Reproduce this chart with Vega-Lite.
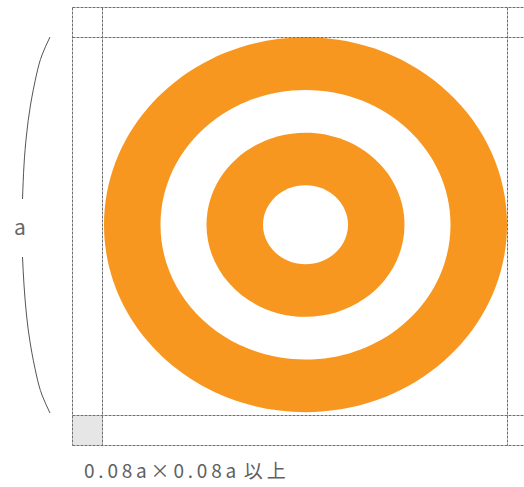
{
  "$schema": "https://vega.github.io/schema/vega-lite/v6.json",
  "width": 524,
  "height": 487,
  "autosize": "none",
  "padding": 0,
  "background": "white",
  "config": {"view": {"stroke": null}},
  "datasets": {
    "rings": [
      {"ring": 1, "cx": 305.5, "cy": 224.75, "d": 403, "tone": "orange"},
      {"ring": 2, "cx": 305.5, "cy": 224.75, "d": 290, "tone": "white"},
      {"ring": 3, "cx": 305.5, "cy": 224.75, "d": 198, "tone": "orange"},
      {"ring": 4, "cx": 305.5, "cy": 224.75, "d": 85, "tone": "white"}
    ],
    "guides": [
      {"x": 72.5, "x2": 524, "y": 7.5, "y2": 7.5},
      {"x": 72.5, "x2": 524, "y": 37.5, "y2": 37.5},
      {"x": 72.5, "x2": 524, "y": 415.5, "y2": 415.5},
      {"x": 72.5, "x2": 524, "y": 445.5, "y2": 445.5},
      {"x": 72.5, "x2": 72.5, "y": 7.5, "y2": 445.5},
      {"x": 102.5, "x2": 102.5, "y": 7.5, "y2": 445.5},
      {"x": 507.5, "x2": 507.5, "y": 7.5, "y2": 445.5}
    ],
    "box": [{"x": 72.5, "x2": 102.5, "y": 415.5, "y2": 445.5}],
    "brace": [
      {"seg": "top", "i": 1, "x": 50, "y": 37},
      {"seg": "top", "i": 2, "x": 42, "y": 55},
      {"seg": "top", "i": 3, "x": 36.4, "y": 75},
      {"seg": "top", "i": 4, "x": 30.5, "y": 105},
      {"seg": "top", "i": 5, "x": 26.5, "y": 135},
      {"seg": "top", "i": 6, "x": 24, "y": 165},
      {"seg": "top", "i": 7, "x": 22.5, "y": 199},
      {"seg": "bottom", "i": 1, "x": 22.5, "y": 257},
      {"seg": "bottom", "i": 2, "x": 24, "y": 285},
      {"seg": "bottom", "i": 3, "x": 26.5, "y": 315},
      {"seg": "bottom", "i": 4, "x": 30.5, "y": 345},
      {"seg": "bottom", "i": 5, "x": 36.4, "y": 375},
      {"seg": "bottom", "i": 6, "x": 42, "y": 395},
      {"seg": "bottom", "i": 7, "x": 50, "y": 413}
    ],
    "labels": [
      {"x": 20, "y": 229, "text": "a", "kind": "side"},
      {"x": 84, "y": 478, "text": "0\u2009.\u20090\u20098\u2009a\u2009×\u20090\u2009.\u20090\u20098\u2009a\u2009\u2009以\u2009上", "kind": "note"}
    ]
  },
  "layer": [
    {
      "data": {"name": "box"},
      "mark": {"type": "rect", "color": "#e6e6e7"},
      "encoding": {
        "x": {"field": "x", "type": "quantitative", "scale": {"domain": [0, 524], "nice": false, "zero": false}, "axis": null},
        "x2": {"field": "x2"},
        "y": {"field": "y", "type": "quantitative", "scale": {"domain": [0, 487], "nice": false, "zero": false, "reverse": true}, "axis": null},
        "y2": {"field": "y2"}
      }
    },
    {
      "data": {"name": "rings"},
      "mark": {"type": "point", "filled": true, "opacity": 1, "shape": "M-1,0A1,0.93,0,1,1,1,0A1,0.93,0,1,1,-1,0Z"},
      "encoding": {
        "x": {"field": "cx", "type": "quantitative", "axis": null},
        "y": {"field": "cy", "type": "quantitative", "axis": null},
        "size": {"field": "d", "type": "quantitative", "scale": {"type": "pow", "exponent": 2, "domain": [0, 403], "range": [0, 162409]}, "legend": null},
        "color": {"field": "tone", "type": "nominal", "scale": {"domain": ["orange", "white"], "range": ["#f7971f", "#ffffff"]}, "legend": null},
        "order": {"field": "ring", "type": "quantitative", "sort": "ascending"}
      }
    },
    {
      "data": {"name": "guides"},
      "mark": {"type": "rule", "color": "#6e6e6e", "strokeWidth": 1, "strokeDash": [3, 1]},
      "encoding": {
        "x": {"field": "x", "type": "quantitative", "axis": null},
        "x2": {"field": "x2"},
        "y": {"field": "y", "type": "quantitative", "axis": null},
        "y2": {"field": "y2"}
      }
    },
    {
      "data": {"name": "brace"},
      "mark": {"type": "line", "color": "#555555", "strokeWidth": 1, "interpolate": "natural"},
      "encoding": {
        "x": {"field": "x", "type": "quantitative", "axis": null},
        "y": {"field": "y", "type": "quantitative", "axis": null},
        "detail": {"field": "seg", "type": "nominal"},
        "order": {"field": "i", "type": "quantitative"}
      }
    },
    {
      "data": {"name": "labels"},
      "transform": [{"filter": "datum.kind === 'side'"}],
      "mark": {"type": "text", "font": "Noto Sans CJK JP", "fontSize": 21, "color": "#666666", "align": "center", "baseline": "middle"},
      "encoding": {
        "x": {"field": "x", "type": "quantitative", "axis": null},
        "y": {"field": "y", "type": "quantitative", "axis": null},
        "text": {"field": "text"}
      }
    },
    {
      "data": {"name": "labels"},
      "transform": [{"filter": "datum.kind === 'note'"}],
      "mark": {"type": "text", "font": "Noto Sans CJK JP", "fontSize": 19, "color": "#606060", "align": "left", "baseline": "alphabetic"},
      "encoding": {
        "x": {"field": "x", "type": "quantitative", "axis": null},
        "y": {"field": "y", "type": "quantitative", "axis": null},
        "text": {"field": "text"}
      }
    }
  ]
}
